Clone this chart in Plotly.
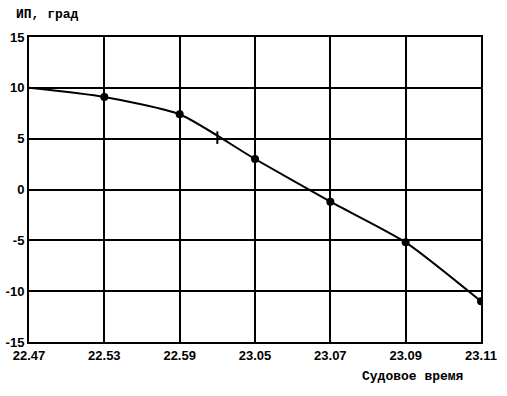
import plotly.graph_objects as go

tick_labels = ["22.47", "22.53", "22.59", "23.05", "23.07", "23.09", "23.11"]
tick_pos = [0, 1, 2, 3, 4, 5, 6]

# measured points (position index along time axis, value in degrees)
pt_x = [1, 2, 3, 4, 5, 6]
pt_y = [9.1, 7.4, 3.0, -1.2, -5.2, -11.0]

# curve through the points, starting from 10 at 22.47
curve_x = [0, 1, 2, 3, 4, 5, 6]
curve_y = [10.0, 9.1, 7.4, 3.0, -1.2, -5.2, -11.0]

# intermediate mark
mark_x = [2.5]
mark_y = [5.1]

font_main = "Liberation Mono, DejaVu Sans Mono, monospace"
tick_font = dict(family="Liberation Sans, sans-serif",
                 size=13, color="black", weight="bold")

fig = go.Figure()
fig.add_trace(go.Scatter(x=curve_x, y=curve_y, mode="lines",
                         line=dict(color="black", width=2, shape="spline", smoothing=0.6),
                         hoverinfo="skip", showlegend=False))
fig.add_trace(go.Scatter(x=pt_x, y=pt_y, mode="markers",
                         marker=dict(color="black", size=8, symbol="circle"),
                         showlegend=False))
fig.add_trace(go.Scatter(x=mark_x, y=mark_y, mode="markers",
                         marker=dict(color="black", size=9, symbol="line-ns-open",
                                     line=dict(width=2, color="black")),
                         showlegend=False))

fig.update_layout(
    width=507, height=396,
    margin=dict(l=29, r=26, t=37, b=54, autoexpand=False),
    paper_bgcolor="white", plot_bgcolor="white",
    font=dict(family=font_main, color="black", size=12),
    xaxis=dict(range=[0, 6], tickvals=tick_pos, ticktext=tick_labels,
               showgrid=True, gridcolor="black", gridwidth=2,
               showline=True, linecolor="black", linewidth=2, mirror=True,
               zeroline=False, ticks="", ticklen=0, automargin=False,
               tickfont=tick_font),
    yaxis=dict(range=[-15, 15], tickvals=[-15, -10, -5, 0, 5, 10, 15],
               ticktext=["-15", "-10", "-5", "0", "5", "10", "15"],
               showgrid=True, gridcolor="black", gridwidth=2,
               showline=True, linecolor="black", linewidth=2, mirror=True,
               zeroline=False, ticks="", ticklen=0, automargin=False,
               tickfont=tick_font),
    annotations=[
        dict(text="<b>ИП, град</b>", xref="paper", yref="paper",
             x=(14 - 29) / 452, y=1 + (37 - 14) / 305, xanchor="left", yanchor="middle",
             showarrow=False, font=dict(family=font_main, size=13, color="black")),
        dict(text="<b>Судовое время</b>", xref="paper", yref="paper",
             x=(412 - 29) / 452, y=-(377 - 342) / 305, xanchor="center", yanchor="middle",
             showarrow=False, font=dict(family=font_main, size=13, color="black")),
    ],
)

fig.write_html("out.html", config={"displayModeBar": False},
               post_script="document.body.style.margin='0';")
